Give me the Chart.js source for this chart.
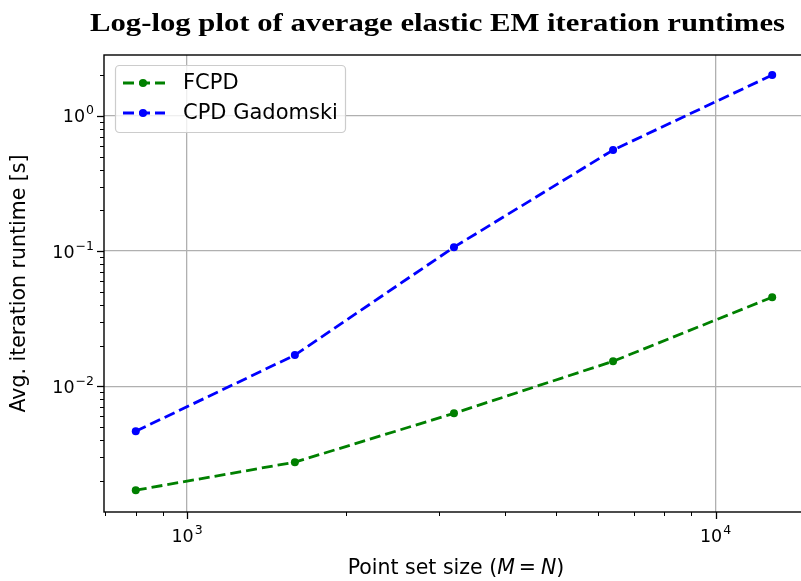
<!DOCTYPE html>
<html>
<head>
<meta charset="utf-8">
<script src="https://cdn.jsdelivr.net/npm/chart.js@4/dist/chart.umd.min.js"></script>
<style>
  html, body { margin: 0; padding: 0; background: #fff; }
  #wrap { width: 801px; height: 581px; overflow: hidden; }
</style>
</head>
<body>
<div id="wrap"><canvas id="myChart" width="812" height="581"></canvas></div>
<script>
const pointSetSizes = [800, 1600, 3200, 6400, 12800];
const fcpdRuntimes = [0.0017, 0.00274, 0.0063, 0.0153, 0.0456];
const gadomskiRuntimes = [0.00464, 0.0170, 0.107, 0.56, 2.01];

// tick labels: base and exponent, drawn as 10^k
const xTickValues = [1000, 10000];
const xTickExponents = ["3", "4"];
const yTickValues = [0.01, 0.1, 1];
const yTickExponents = ["\u22122", "\u22121", "0"];

const chartTitle = "Log-log plot of average elastic EM iteration runtimes";

const SANS = "'DejaVu Sans', sans-serif";

// all 1..9 * 10^k values inside [min, max]
function logTicks(min, max) {
    const out = [];
    for (let e = Math.floor(Math.log10(min)); e <= Math.ceil(Math.log10(max)); e++) {
        for (let m = 1; m < 10; m++) {
            const v = m * Math.pow(10, e);
            if (v >= min && v <= max) out.push({ value: v });
        }
    }
    return out;
}

function isMajor(v) {
    const l = Math.log10(v);
    return Math.abs(l - Math.round(l)) < 1e-9;
}

// draws "10" with a raised exponent; anchor is 'center' (x axis) or 'right' (y axis)
function drawPower(c, exp, x, yMid, anchor) {
    c.font = "17.5px " + SANS;
    const wb = c.measureText("10").width;
    c.font = "12.5px " + SANS;
    const we = c.measureText(exp).width;
    const total = wb + 1 + we;
    const x0 = anchor === "center" ? x - total / 2 : x - total;
    const base = yMid + 6.4;
    c.textAlign = "left";
    c.textBaseline = "alphabetic";
    c.font = "17.5px " + SANS;
    c.fillText("10", x0, base);
    c.font = "12.5px " + SANS;
    c.fillText(exp, x0 + wb + 1, base - 8);
}

const extras = {
    id: "extras",
    afterDraw(chart) {
        const c = chart.ctx;
        const a = chart.chartArea;
        const xs = chart.scales.x, ys = chart.scales.y;
        c.save();
        // spines (the right one falls outside the visible 801px)
        c.strokeStyle = "#000";
        c.lineWidth = 1.4;
        c.strokeRect(a.left, a.top, a.right - a.left, a.bottom - a.top);
        // tick marks
        xs.ticks.forEach(t => {
            const px = Math.round(xs.getPixelForValue(t.value)) + 0.5;
            const major = isMajor(t.value);
            c.lineWidth = major ? 1.3 : 1;
            c.beginPath(); c.moveTo(px, a.bottom); c.lineTo(px, a.bottom + (major ? 7 : 4)); c.stroke();
        });
        ys.ticks.forEach(t => {
            const py = Math.round(ys.getPixelForValue(t.value)) + 0.5;
            const major = isMajor(t.value);
            c.lineWidth = major ? 1.3 : 1;
            c.beginPath(); c.moveTo(a.left, py); c.lineTo(a.left - (major ? 7 : 4), py); c.stroke();
        });
        // tick labels
        c.fillStyle = "#000";
        xTickValues.forEach((v, i) => drawPower(c, xTickExponents[i], xs.getPixelForValue(v), 536, "center"));
        yTickValues.forEach((v, i) => drawPower(c, yTickExponents[i], a.left - 10, ys.getPixelForValue(v), "right"));
        // title, stretched sideways to the width of the original heading
        c.font = "bold 25px 'Liberation Serif', serif";
        const stretch = 695 / c.measureText(chartTitle).width;
        c.save();
        c.translate(437.5, 31);
        c.scale(stretch, 1);
        c.textAlign = "center";
        c.textBaseline = "alphabetic";
        c.fillText(chartTitle, 0, 0);
        c.restore();
        // x axis title with italic M and N
        const up = "20.5px " + SANS, it = "italic 20.5px " + SANS;
        const parts = [
            ["Point set size (", up, 0],
            ["M", it, 4],
            ["=", up, 5],
            ["N", it, 0],
            [")", up, 0]
        ];
        let total = 0;
        parts.forEach(p => { c.font = p[1]; total += c.measureText(p[0]).width + p[2]; });
        let x = 456 - total / 2;
        c.textAlign = "left";
        parts.forEach(p => { c.font = p[1]; c.fillText(p[0], x, 574); x += c.measureText(p[0]).width + p[2]; });
        // legend
        const lx = 115, ly = 65, lw = 230, lh = 67;
        c.globalAlpha = 0.8;
        c.fillStyle = "#fff";
        c.beginPath(); c.roundRect(lx, ly, lw, lh, 4); c.fill();
        c.globalAlpha = 1;
        c.strokeStyle = "#cccccc";
        c.lineWidth = 1.2;
        c.beginPath(); c.roundRect(lx + 0.5, ly + 0.5, lw, lh, 4); c.stroke();
        chart.data.datasets.forEach((ds, i) => {
            const yy = ly + 18 + i * 30;
            c.strokeStyle = ds.borderColor;
            c.lineWidth = ds.borderWidth;
            c.setLineDash(ds.borderDash);
            c.beginPath(); c.moveTo(lx + 8, yy); c.lineTo(lx + 50, yy); c.stroke();
            c.setLineDash([]);
            c.fillStyle = ds.borderColor;
            c.beginPath(); c.arc(lx + 28, yy, 4, 0, Math.PI * 2); c.fill();
            c.fillStyle = "#000";
            c.font = "21px " + SANS;
            c.textBaseline = "middle";
            c.fillText(ds.label, lx + 68, yy + 1);
        });
        c.restore();
    }
};

const ctx = document.getElementById("myChart");
const myChart = new Chart(ctx, {
    type: "line",
    data: {
        datasets: [{
            label: "FCPD",
            data: pointSetSizes.map((s, i) => ({ x: s, y: fcpdRuntimes[i] })),
            borderColor: "#008000",
            backgroundColor: "#008000",
            borderWidth: 2.8,
            borderDash: [11, 5],
            pointRadius: 4,
            pointHoverRadius: 4,
            pointBorderWidth: 0,
            tension: 0
        }, {
            label: "CPD Gadomski",
            data: pointSetSizes.map((s, i) => ({ x: s, y: gadomskiRuntimes[i] })),
            borderColor: "#0000ff",
            backgroundColor: "#0000ff",
            borderWidth: 2.8,
            borderDash: [11, 5],
            pointRadius: 4,
            pointHoverRadius: 4,
            pointBorderWidth: 0,
            tension: 0
        }]
    },
    options: {
        responsive: false,
        animation: false,
        layout: { padding: { top: 55, right: 0, left: 0, bottom: 0 } },
        plugins: {
            legend: { display: false },
            title: { display: false },
            tooltip: { enabled: false }
        },
        scales: {
            x: {
                type: "logarithmic",
                min: 696.6,
                max: 14962,
                afterBuildTicks: s => { s.ticks = logTicks(s.min, s.max); },
                afterFit: s => { s.height = 69; },
                grid: {
                    drawTicks: false,
                    color: c => isMajor(c.tick.value) ? "#b0b0b0" : "rgba(0,0,0,0)",
                    lineWidth: 1.3
                },
                border: { display: false },
                ticks: { autoSkip: false, maxRotation: 0, callback: () => "" }
            },
            y: {
                type: "logarithmic",
                min: 0.001172,
                max: 2.83,
                afterBuildTicks: s => { s.ticks = logTicks(s.min, s.max); },
                afterFit: s => { s.width = 104; },
                grid: {
                    drawTicks: false,
                    color: c => isMajor(c.tick.value) ? "#b0b0b0" : "rgba(0,0,0,0)",
                    lineWidth: 1.3
                },
                border: { display: false },
                title: {
                    display: true,
                    text: "Avg. iteration runtime [s]",
                    color: "#000",
                    font: { family: SANS, size: 20.5 },
                    padding: { top: 7, bottom: 0 }
                },
                ticks: { autoSkip: false, callback: () => "" }
            }
        }
    },
    plugins: [extras]
});
</script>
</body>
</html>
